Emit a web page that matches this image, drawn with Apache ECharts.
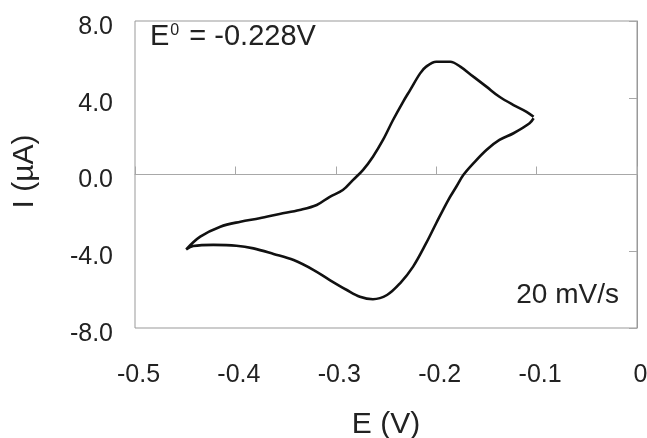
<!DOCTYPE html>
<html>
<head>
<meta charset="utf-8">
<script src="https://cdn.jsdelivr.net/npm/echarts@6/dist/echarts.min.js"></script>
<style>
  html, body { margin: 0; padding: 0; background: #fff; }
  #chart_container { width: 647px; height: 438px; }
</style>
</head>
<body>
<div id="chart_container"></div>
<script>
// potential (V) and current (uA), scan starts at the right vertex
const potentials = [-0.103, -0.107, -0.123, -0.137, -0.150, -0.163, -0.173, -0.180, -0.188, -0.200,
    -0.210, -0.223, -0.236, -0.249, -0.263, -0.276, -0.289, -0.306, -0.322, -0.342,
    -0.362, -0.382, -0.399, -0.422, -0.442, -0.449, -0.435, -0.415, -0.395, -0.376,
    -0.356, -0.336, -0.319, -0.306, -0.293, -0.283, -0.273, -0.263, -0.253, -0.243,
    -0.233, -0.226, -0.216, -0.210, -0.200, -0.186, -0.176, -0.163, -0.150, -0.137,
    -0.123, -0.110, -0.103]
const currents = [2.93, 2.67, 2.15, 1.80, 1.28, 0.58, -0.03, -0.64, -1.33, -2.54,
    -3.58, -4.80, -5.67, -6.28, -6.50, -6.37, -6.02, -5.50, -4.98, -4.46,
    -4.14, -3.85, -3.71, -3.67, -3.73, -3.90, -3.24, -2.72, -2.46, -2.28,
    -2.06, -1.85, -1.59, -1.16, -0.81, -0.29, 0.23, 0.93, 1.80, 2.84,
    3.79, 4.40, 5.27, 5.62, 5.88, 5.88, 5.62, 5.10, 4.58, 4.05,
    3.62, 3.27, 3.01]

const xRange = [-0.5, 0]
const yRange = [-8, 8]
const formalPotential = "-0.228V"
const scanRate = "20 mV/s"

const font = "'Liberation Sans', Arial, Helvetica, sans-serif"
const textColor = "#222"
const axisGray = "#a8a8a8"

let curve = potentials.map((e, i) => [e, currents[i]])

let chart = echarts.init(document.getElementById('chart_container'))

let option = {
    animation: false,
    grid: {
        left: 135, right: 10, top: 21, bottom: 110,
        outerBoundsMode: "none", containLabel: false,
        show: true, borderColor: "#999", borderWidth: 1
    },
    xAxis: [
        {   // labels + title at the bottom
            type: "value", min: xRange[0], max: xRange[1], interval: 0.1,
            position: "bottom",
            axisLine: { show: false, onZero: false },
            axisTick: { show: false },
            splitLine: { show: false },
            axisLabel: {
                margin: 35,
                formatter: v => "{t|" + (Math.abs(v) < 1e-9 ? "0" : v.toFixed(1)) + "}",
                rich: { t: { fontSize: 25, color: textColor, fontFamily: font, padding: [0, 0, 0, 7] } }
            },
            name: "E (V)", nameLocation: "middle", nameGap: 82,
            nameTextStyle: { fontSize: 30, color: textColor, fontFamily: font }
        },
        {   // axis line crossing at I = 0
            type: "value", min: xRange[0], max: xRange[1], interval: 0.1,
            axisLine: { show: true, onZero: true, lineStyle: { color: axisGray, width: 1 } },
            axisTick: { show: true, inside: false, length: 8, lineStyle: { color: axisGray } },
            axisLabel: { show: false },
            splitLine: { show: false }
        }
    ],
    yAxis: [
        {
            type: "value", min: yRange[0], max: yRange[1], interval: 4,
            position: "left",
            axisLine: { show: false, onZero: false },
            axisTick: { show: false },
            splitLine: { show: false },
            axisLabel: {
                margin: 22,
                formatter: v => "{t|" + v.toFixed(1) + "}",
                rich: { t: { fontSize: 25, color: textColor, fontFamily: font, padding: [12, 0, 0, 0] } }
            },
            name: "I (\u00b5A)", nameLocation: "middle", nameGap: 95,
            nameTextStyle: { fontSize: 30, color: textColor, fontFamily: font, padding: [0, 0, 0, 6] }
        },
        {   // axis at E = 0 (right edge), ticks pointing in
            type: "value", min: yRange[0], max: yRange[1], interval: 4,
            position: "right",
            axisLine: { show: true, onZero: false, lineStyle: { color: "#999" } },
            axisTick: { show: true, inside: true, length: 8, lineStyle: { color: axisGray } },
            axisLabel: { show: false },
            splitLine: { show: false }
        }
    ],
    graphic: [
        {
            type: "text", left: 150, top: 22,
            style: {
                text: "{m|E}{s|0}{m| = " + formalPotential + "}",
                rich: {
                    m: { fontSize: 29, lineHeight: 34, fontFamily: font, fill: textColor, color: textColor },
                    s: { fontSize: 16, lineHeight: 16, fontFamily: font, fill: textColor, color: textColor,
                         padding: [0, 2, 12, 1] }
                }
            }
        },
        {
            type: "text", right: 28, top: 281,
            style: { text: scanRate, font: "28px " + font, fill: textColor }
        }
    ],
    series: [
        {
            name: "CV",
            type: "line",
            xAxisIndex: 0,
            yAxisIndex: 0,
            data: curve,
            showSymbol: false,
            symbol: "none",
            smooth: 0.35,
            lineStyle: { color: "#111", width: 2.6 }
        }
    ]
}

if (chart) {
    chart.setOption(option)
} else {
    console.error("Echart instance failed to init")
}
</script>
</body>
</html>
